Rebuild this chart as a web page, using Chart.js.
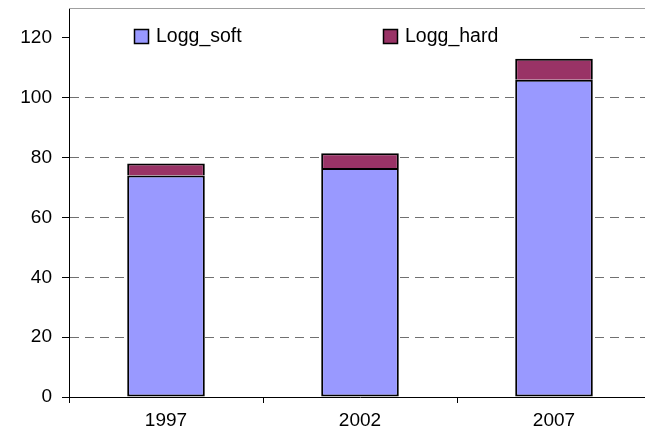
<!DOCTYPE html>
<html>
<head>
<meta charset="utf-8">
<script src="https://cdn.jsdelivr.net/npm/chart.js@4"></script>
<style>
  html, body { margin: 0; padding: 0; background: #fff; overflow: hidden; }
  #wrap { width: 660px; height: 443px; }
</style>
</head>
<body>
<div id="wrap"><canvas id="chart" width="660" height="443"></canvas></div>
<script>
// данные
var years = ['1997', '2002', '2007'];
var loggSoft = [74, 76.5, 106];
var loggHard = [4, 5, 7];
var yTicks = [0, 20, 40, 60, 80, 100, 120];

var FONT = 'Liberation Sans, Arial, sans-serif';

// легенда внутри области графика, на белой подложке, как в Excel
var insideLegend = {
    id: 'insideLegend',
    afterDatasetsDraw: function(chart) {
        var ctx = chart.ctx, a = chart.chartArea;
        ctx.save();
        ctx.fillStyle = '#fff';
        ctx.fillRect(a.left + 1, 20, 580 - a.left - 1, 34);
        var xs = [134, 383];
        ctx.font = '19.5px ' + FONT;
        ctx.textBaseline = 'middle';
        chart.data.datasets.forEach(function(ds, i) {
            ctx.fillStyle = ds.backgroundColor;
            ctx.fillRect(xs[i], 29, 15, 15);
            ctx.strokeStyle = '#000';
            ctx.lineWidth = 1.5;
            ctx.strokeRect(xs[i] + 0.5, 29.5, 14, 14);
            ctx.fillStyle = '#000';
            ctx.fillText(ds.label, xs[i] + 22, 37);
        });
        // верхняя рамка области построения
        ctx.strokeStyle = '#a0a0a0';
        ctx.lineWidth = 1;
        ctx.beginPath();
        ctx.moveTo(a.left, a.top + 0.5);
        ctx.lineTo(a.right, a.top + 0.5);
        ctx.stroke();
        ctx.restore();
    }
};

new Chart(document.getElementById('chart'), {
    type: 'bar',
    data: {
        labels: years,
        datasets: [
            {
                label: 'Logg_soft',
                data: loggSoft,
                backgroundColor: '#9999ff',
                borderColor: '#000',
                borderWidth: 2,
                borderSkipped: false,
                categoryPercentage: 0.4,
                barPercentage: 1,
            },
            {
                label: 'Logg_hard',
                data: loggHard,
                backgroundColor: '#993366',
                borderColor: '#000',
                borderWidth: 2,
                borderSkipped: 'start',
                categoryPercentage: 0.4,
                barPercentage: 1,
            },
        ],
    },
    options: {
        responsive: false,
        animation: false,
        layout: { padding: { top: 8, right: 9, left: 0, bottom: 0 } },
        plugins: { legend: { display: false }, tooltip: { enabled: false } },
        scales: {
            x: {
                stacked: true,
                afterFit: function(s) { s.height = 46; s.paddingLeft = 0; s.paddingRight = 0; },
                grid: { offset: true, drawOnChartArea: false, tickLength: 6, tickColor: '#000' },
                border: { color: '#000', width: 1 },
                ticks: { color: '#000', font: { family: FONT, size: 19 }, padding: 6 },
            },
            y: {
                stacked: true,
                min: 0,
                max: 130,
                afterFit: function(s) { s.width = 69; s.paddingTop = 0; s.paddingBottom = 0; },
                afterBuildTicks: function(s) { s.ticks = yTicks.map(function(v) { return { value: v }; }); },
                grid: {
                    color: function(c) { return c.tick && c.tick.value === 0 ? 'rgba(0,0,0,0)' : '#707070'; },
                    tickLength: 7,
                    tickColor: '#000',
                },
                border: { color: '#000', width: 1, dash: [9, 6] },
                ticks: { color: '#000', font: { family: FONT, size: 19 }, padding: 10, includeBounds: false },
            },
        },
    },
    plugins: [insideLegend],
});
</script>
</body>
</html>
